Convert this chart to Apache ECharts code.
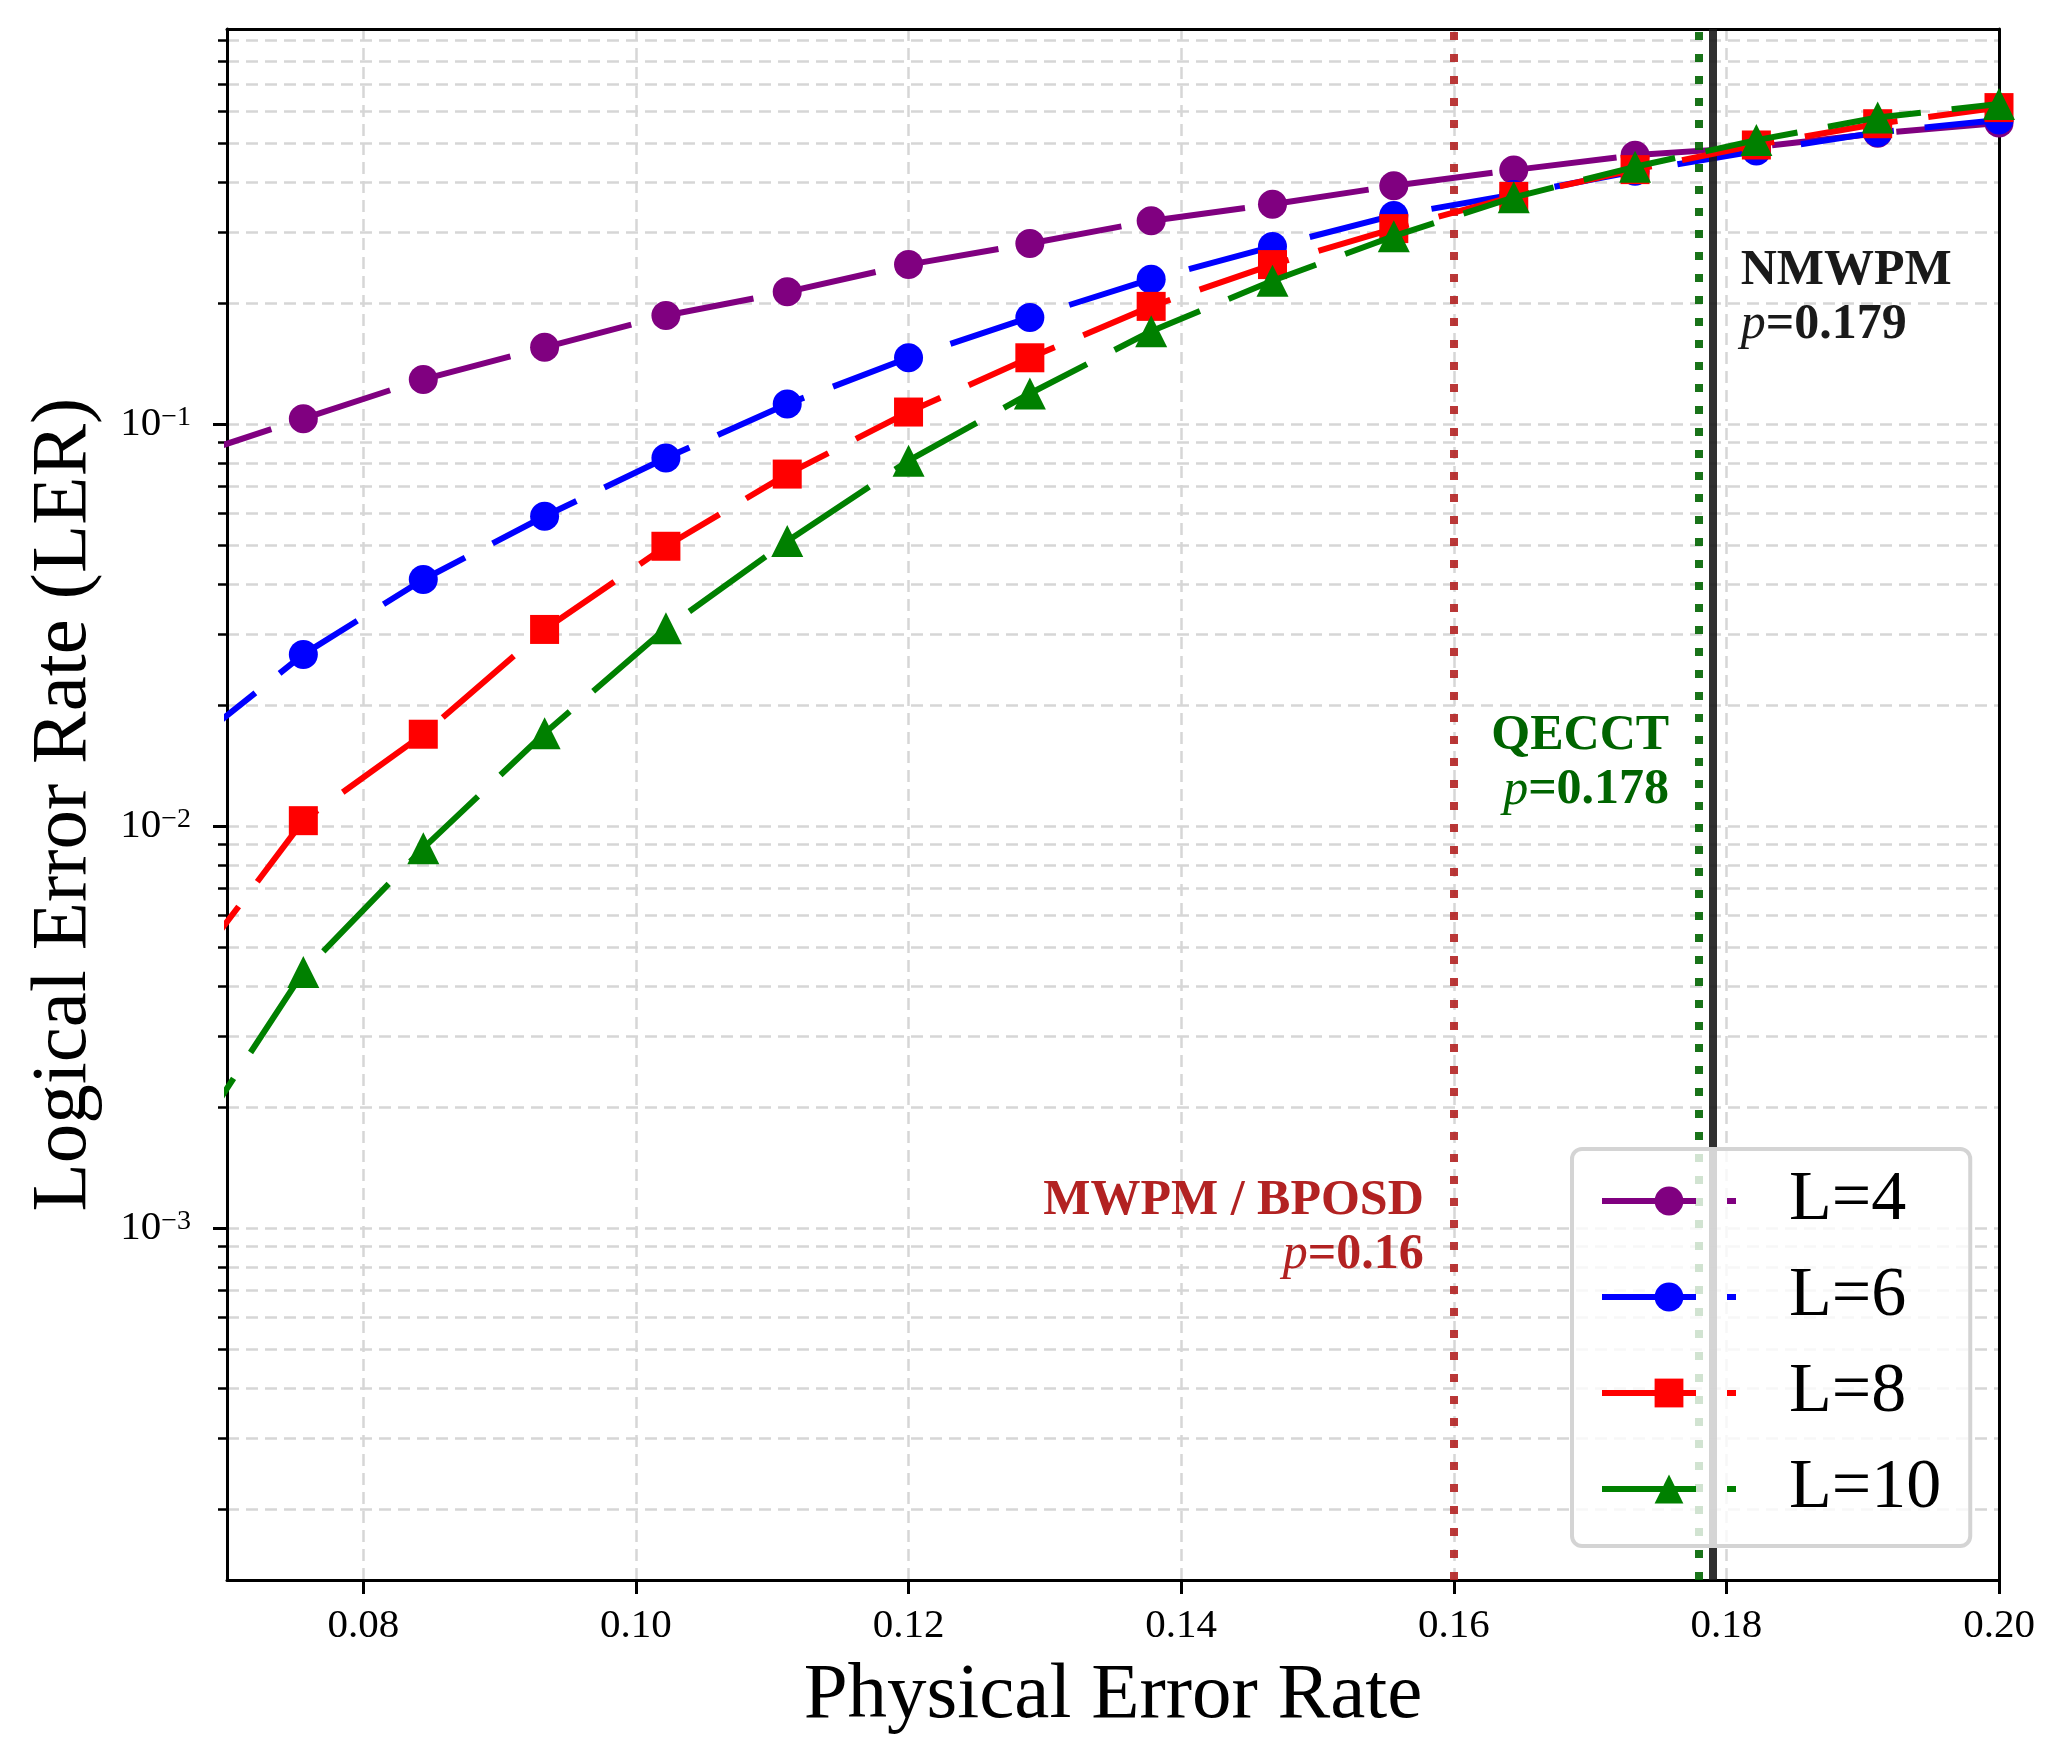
<!DOCTYPE html>
<html>
<head>
<meta charset="utf-8">
<script src="https://cdn.jsdelivr.net/npm/echarts@6/dist/echarts.min.js"></script>
<style>
  html, body { margin: 0; padding: 0; background: #fff; }
  #chart { width: 2066px; height: 1737px; }
</style>
</head>
<body>
<div id="chart"></div>
<script>
const FONT = '"Liberation Serif", "DejaVu Serif", serif'

// physical error rate, first point sits just left of the visible range
const physRate = [0.0667, 0.0756, 0.0844, 0.0933, 0.1022, 0.1111, 0.12, 0.1289, 0.1378, 0.1467, 0.1556, 0.1644, 0.1733, 0.1822, 0.1911, 0.2]

// logical error rate per code distance
const lerL4 = [0.082, 0.103, 0.129, 0.155, 0.186, 0.213, 0.249, 0.281, 0.320, 0.352, 0.391, 0.428, 0.466, 0.488, 0.528, 0.560]
const lerL6 = [0.0153, 0.0267, 0.041, 0.0589, 0.0822, 0.112, 0.146, 0.184, 0.229, 0.276, 0.330, 0.372, 0.425, 0.477, 0.531, 0.570]
const lerL8 = [0.0041, 0.0103, 0.0169, 0.0308, 0.0496, 0.075, 0.107, 0.146, 0.196, 0.249, 0.306, 0.368, 0.429, 0.494, 0.558, 0.612]
const lerL10 = [0.0015, 0.00433, 0.0088, 0.0170, 0.031, 0.0511, 0.081, 0.119, 0.170, 0.227, 0.293, 0.366, 0.436, 0.508, 0.578, 0.625]

const seriesNames = ['L=4', 'L=6', 'L=8', 'L=10']
const seriesColors = ['#800080', '#0000ff', '#ff0000', '#008000']
const seriesSymbols = ['circle', 'circle', 'rect', 'triangle']
const symbolSizes = [29, 29, 29, 32]

// axis ticks
const xTicks = [0.08, 0.10, 0.12, 0.14, 0.16, 0.18, 0.20]
const yMajor = [0.001, 0.01, 0.1]
const yMinor = [
  0.0002, 0.0003, 0.0004, 0.0005, 0.0006, 0.0007, 0.0008, 0.0009,
  0.002, 0.003, 0.004, 0.005, 0.006, 0.007, 0.008, 0.009,
  0.02, 0.03, 0.04, 0.05, 0.06, 0.07, 0.08, 0.09,
  0.2, 0.3, 0.4, 0.5, 0.6, 0.7, 0.8, 0.9
]
const yRange = [1.33e-4, 0.96]

// threshold lines + where their text sits (LER value of the text block centre)
const thresholdNames = ['MWPM / BPOSD', 'QECCT', 'NMWPM']
const thresholdP = [0.16, 0.178, 0.179]
const labelAnchorLER = [0.001, 0.0143, 0.206]
const thresholdColors = ['#b22222', '#006400', '#1a1a1a']

const chart = echarts.init(document.getElementById('chart'))

const gridLine = { color: '#d6d6d6', width: 2.5, type: [12, 7] }
const frameLine = { color: '#000', width: 3 }

const lerSeries = [lerL4, lerL6, lerL8, lerL10].map((vals, i) => ({
  name: seriesNames[i],
  type: 'line',
  data: physRate.map((p, j) => [p, vals[j]]),
  symbol: seriesSymbols[i],
  symbolSize: symbolSizes[i],
  showSymbol: true,
  showAllSymbol: true,
  clip: true,
  itemStyle: { color: seriesColors[i] },
  lineStyle: { color: seriesColors[i], width: 6, type: [94, 31], cap: 'butt' },
  emphasis: { disabled: true },
  z: 3 + i
}))

const thresholdSeries = {
  name: 'thresholds',
  type: 'line',
  data: [],
  z: 8,
  markLine: {
    silent: true,
    animation: false,
    precision: 4,
    symbol: ['none', 'none'],
    label: { show: false },
    data: thresholdP.map((p, i) => ({
      xAxis: p,
      lineStyle: {
        color: thresholdColors[i],
        width: 8,
        opacity: 0.9,
        type: i < 2 ? [8, 14] : 'solid',
        cap: 'butt'
      }
    }))
  },
  markPoint: {
    silent: true,
    animation: false,
    data: thresholdP.map((p, i) => ({
      coord: [p, labelAnchorLER[i]],
      symbol: 'circle',
      symbolSize: 0,
      label: {
        show: true,
        position: i < 2 ? 'left' : 'right',
        distance: i < 2 ? 30 : 28,
        formatter: '{b|' + thresholdNames[i] + '}\n{i|p}{b|=' + thresholdP[i] + '}',
        rich: {
          b: { fontFamily: FONT, fontWeight: 'bold', fontSize: 50, lineHeight: 54, color: thresholdColors[i] },
          i: { fontFamily: FONT, fontStyle: 'italic', fontSize: 50, lineHeight: 54, color: thresholdColors[i] }
        }
      }
    }))
  }
}

const option = {
  animation: false,
  backgroundColor: '#fff',
  grid: {
    left: 227,
    right: 67,
    top: 29,
    bottom: 157,
    show: false,
    outerBoundsMode: 'none',
    containLabel: false
  },
  legend: {
    data: seriesNames,
    orient: 'vertical',
    left: 1572,
    top: 1149,
    z: 20,
    itemWidth: 134,
    itemHeight: 36,
    itemGap: 26,
    padding: [17, 29, 22, 27],
    backgroundColor: 'rgba(255,255,255,0.8)',
    borderColor: '#d4d4d4',
    borderWidth: 4,
    borderRadius: 10,
    lineStyle: { width: 6 },
    selectedMode: false,
    textStyle: { fontFamily: FONT, fontSize: 70, color: '#000', padding: [0, 0, 0, 48] }
  },
  xAxis: [
    {
      type: 'value',
      min: 0.07,
      max: 0.2,
      name: 'Physical Error Rate',
      nameLocation: 'middle',
      nameGap: 77,
      nameTextStyle: { fontFamily: FONT, fontSize: 79, color: '#000' },
      axisLine: { show: true, onZero: false, lineStyle: frameLine },
      axisTick: { show: true, length: 14, customValues: xTicks, lineStyle: { color: '#000', width: 3 } },
      axisLabel: {
        customValues: xTicks,
        margin: 26,
        fontFamily: FONT,
        fontSize: 41,
        color: '#000',
        formatter: v => v.toFixed(2)
      },
      splitLine: { show: true, lineStyle: gridLine }
    },
    {
      // top frame
      type: 'value',
      min: 0.07,
      max: 0.2,
      position: 'top',
      z: 1,
      axisLine: { show: true, onZero: false, lineStyle: frameLine },
      axisTick: { show: false },
      axisLabel: { show: false },
      splitLine: { show: false }
    }
  ],
  yAxis: [
    {
      type: 'log',
      min: yRange[0],
      max: yRange[1],
      name: 'Logical Error Rate (LER)',
      nameLocation: 'middle',
      nameGap: 123,
      nameTextStyle: { fontFamily: FONT, fontSize: 79, color: '#000' },
      axisLine: { show: true, lineStyle: frameLine },
      axisTick: { show: true, length: 14, customValues: yMajor, lineStyle: { color: '#000', width: 3 } },
      axisLabel: {
        customValues: yMajor,
        margin: 36,
        formatter: v => '{base|10}{sup|\u2212' + Math.round(-Math.log10(v)) + '}',
        rich: {
          base: { fontFamily: FONT, fontSize: 41, color: '#000', verticalAlign: 'bottom' },
          sup: { fontFamily: FONT, fontSize: 28, lineHeight: 28, color: '#000', verticalAlign: 'top' }
        }
      },
      splitLine: { show: true, lineStyle: gridLine }
    },
    {
      type: 'log',
      min: yRange[0],
      max: yRange[1],
      position: 'left',
      offset: 0,
      axisLine: { show: false },
      axisTick: { show: true, length: 9, customValues: yMinor, lineStyle: { color: '#000', width: 2.5 } },
      axisLabel: { show: false },
      splitLine: { show: true, lineStyle: gridLine }
    },
    {
      // right frame
      type: 'log',
      min: yRange[0],
      max: yRange[1],
      position: 'right',
      z: 1,
      axisLine: { show: true, lineStyle: frameLine },
      axisTick: { show: false },
      axisLabel: { show: false },
      splitLine: { show: false }
    }
  ],
  series: [...lerSeries, thresholdSeries]
}

chart.setOption(option)
</script>
</body>
</html>
